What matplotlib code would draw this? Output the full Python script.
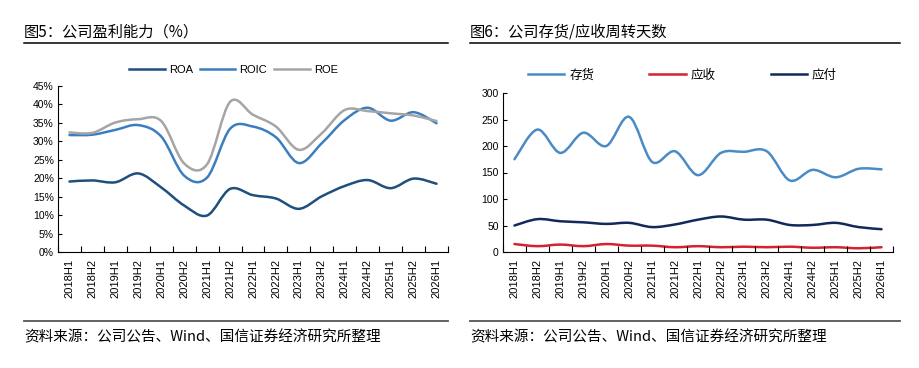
import matplotlib.pyplot as plt
from matplotlib.path import Path
from matplotlib.patches import PathPatch
from matplotlib.lines import Line2D
import numpy as np

plt.rcParams['font.family'] = ['Noto Sans CJK SC', 'DejaVu Sans']

# data
periods = ['2018H1', '2018H2', '2019H1', '2019H2', '2020H1', '2020H2', '2021H1', '2021H2',
           '2022H1', '2022H2', '2023H1', '2023H2', '2024H1', '2024H2', '2025H1', '2025H2', '2026H1']
roa = [19.1, 19.4, 18.9, 21.3, 17.5, 12.6, 9.9, 17.1, 15.4, 14.5, 11.7, 15.1, 17.9, 19.5, 17.3, 19.9, 18.5]
roic = [31.7, 31.8, 33.1, 34.4, 31.3, 20.7, 20.2, 33.4, 34.0, 31.1, 24.1, 29.5, 35.8, 39.1, 35.6, 37.9, 34.9]
roe = [32.4, 32.3, 35.1, 36.0, 35.5, 24.0, 23.8, 40.7, 37.2, 34.0, 27.7, 32.2, 38.5, 38.2, 37.6, 37.0, 35.5]

inventory_days = [175, 231, 187, 225, 200, 255, 170, 190, 145, 187, 189, 190, 135, 155, 141, 157, 156]
receivable_days = [15, 11, 14, 11, 15, 12, 12, 9, 11, 9, 10, 9, 10, 8, 9, 7, 9]
payable_days = [50, 62, 58, 56, 53, 55, 47, 52, 61, 67, 61, 61, 51, 51, 55, 47, 43]


def smooth_line(ax, xs, ys, color, lw=1.8):
    # Excel-like smoothed line: Catmull-Rom segments drawn as cubic Bezier
    pts = np.column_stack([xs, ys]).astype(float)
    n = len(pts)
    verts = [pts[0]]
    codes = [Path.MOVETO]
    for i in range(n - 1):
        p0 = pts[max(i - 1, 0)]
        p1 = pts[i]
        p2 = pts[i + 1]
        p3 = pts[min(i + 2, n - 1)]
        c1 = p1 + (p2 - p0) / 6.0
        c2 = p2 - (p3 - p1) / 6.0
        verts += [c1, c2, p2]
        codes += [Path.CURVE4] * 3
    patch = PathPatch(Path(verts, codes), facecolor='none', edgecolor=color, lw=lw,
                      capstyle='round', joinstyle='round')
    ax.add_patch(patch)
    return Line2D([], [], color=color, lw=lw)


def style_axes(ax, n):
    ax.set_xlim(0, n)
    ax.set_xticks(np.arange(n + 1))
    ax.set_xticklabels([])
    ax.set_xticks(np.arange(n) + 0.5, minor=True)
    ax.set_xticklabels(periods, minor=True, rotation=90, fontsize=8, family='Liberation Sans')
    ax.tick_params(axis='x', which='major', direction='in', length=4, width=0.8)
    ax.tick_params(axis='x', which='minor', length=0, pad=5)
    ax.tick_params(axis='y', direction='in', length=3, width=0.8, labelsize=7.5, pad=3)
    for lab in ax.get_yticklabels():
        lab.set_family('Liberation Sans')
    ax.spines['top'].set_visible(False)
    ax.spines['right'].set_visible(False)
    ax.spines['left'].set_linewidth(0.8)
    ax.spines['bottom'].set_linewidth(0.8)


fig = plt.figure(figsize=(9.2, 3.68), dpi=100)
W, H = 920, 368

x = np.arange(len(periods)) + 0.5

# left chart
ax1 = fig.add_axes([58 / W, 1 - 252 / H, 390 / W, 166 / H])
h1 = smooth_line(ax1, x, roa, '#1e4f7d')
h2 = smooth_line(ax1, x, roic, '#3b7ec0')
h3 = smooth_line(ax1, x, roe, '#a5a5a5')
ax1.set_ylim(0, 45)
ax1.set_yticks(np.arange(0, 46, 5))
ax1.set_yticklabels([f'{v}%' for v in range(0, 46, 5)])
style_axes(ax1, len(periods))
ax1.legend([h1, h2, h3], ['ROA', 'ROIC', 'ROE'], ncol=3, loc='center',
           bbox_to_anchor=(0.45, 1.096), frameon=False,
           handlelength=3.2, handletextpad=0.4, columnspacing=0.6,
           prop={'family': 'Liberation Sans', 'size': 8})

# right chart
ax2 = fig.add_axes([503 / W, 1 - 252 / H, 390 / W, 159 / H])
g1 = smooth_line(ax2, x, inventory_days, '#4a8bc6')
g2 = smooth_line(ax2, x, receivable_days, '#d42330')
g3 = smooth_line(ax2, x, payable_days, '#12295a')
ax2.set_ylim(0, 300)
ax2.set_yticks(np.arange(0, 301, 50))
style_axes(ax2, len(periods))
ax2.legend([g1, g2, g3], ['存货', '应收', '应付'], ncol=3, loc='center',
           bbox_to_anchor=(0.46, 1.113), frameon=False, fontsize=9,
           handlelength=2.9, handletextpad=0.4, columnspacing=4.4)

# titles, rules and source notes
fig.text(24 / W, 1 - 32 / H, '图5：公司盈利能力（%）', fontsize=11, va='center', ha='left')
fig.text(470 / W, 1 - 32 / H, '图6：公司存货/应收周转天数', fontsize=11, va='center', ha='left')
fig.add_artist(Line2D([24 / W, 448 / W], [1 - 43 / H] * 2, color='black', lw=1.1))
fig.add_artist(Line2D([470 / W, 900 / W], [1 - 43 / H] * 2, color='black', lw=1.1))
fig.add_artist(Line2D([24 / W, 448 / W], [1 - 321 / H] * 2, color='#555555', lw=1.3))
fig.add_artist(Line2D([470 / W, 900 / W], [1 - 321 / H] * 2, color='#555555', lw=1.3))
src = '资料来源：公司公告、Wind、国信证券经济研究所整理'
fig.text(24 / W, 1 - 337 / H, src, fontsize=10.5, va='center', ha='left')
fig.text(470 / W, 1 - 337 / H, src, fontsize=10.5, va='center', ha='left')

fig.savefig('out.png', dpi=100)
